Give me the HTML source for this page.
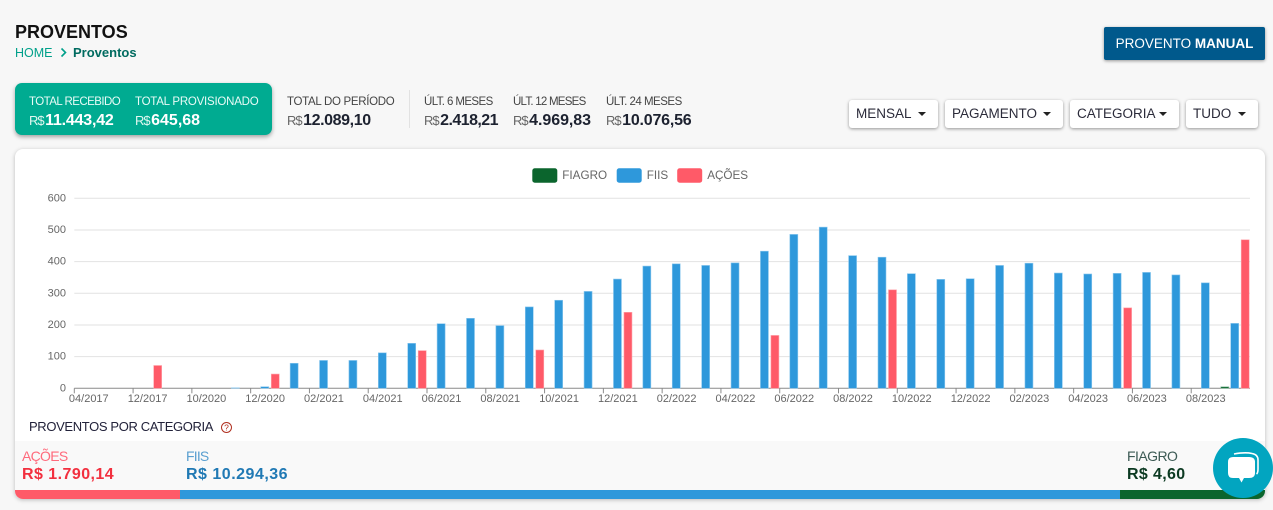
<!DOCTYPE html>
<html lang="pt-BR">
<head>
<meta charset="utf-8">
<title>Proventos</title>
<style>
html,body{margin:0;padding:0;background:#f7f7f7;}
body{position:relative;width:1273px;height:510px;overflow:hidden;font-family:"Liberation Sans",sans-serif;color:#222;}
.t{position:absolute;white-space:nowrap;line-height:1;}
.lab{font-size:11.5px;color:#444;letter-spacing:-.35px;}
.val{font-size:16px;font-weight:bold;color:#1d2230;letter-spacing:-.2px;}
.val small{font-size:13px;font-weight:normal;color:#666;letter-spacing:-1px;margin-right:1.5px;}
.btn{position:absolute;top:100px;height:28px;background:#fff;border-radius:3px;box-shadow:0 1px 3px rgba(0,0,0,.4);font-size:13.5px;line-height:28px;color:#2b2b3a;box-sizing:border-box;padding-left:7px;white-space:nowrap;}
.btn i{display:inline-block;position:absolute;right:12px;top:12px;width:0;height:0;border-left:4.5px solid transparent;border-right:4.5px solid transparent;border-top:4.5px solid #222;}
#hero{position:absolute;left:15px;top:83px;width:257px;height:52px;background:#00ab91;border-radius:7px;box-shadow:0 2px 4px rgba(0,0,0,.35);}
#card{position:absolute;left:15px;top:149px;width:1250px;height:350px;background:#fff;border-radius:8px;box-shadow:0 1px 4px rgba(0,0,0,.25);overflow:hidden;}
#strip{position:absolute;left:0;top:292px;width:1250px;height:49px;background:#f9f9f9;}
#chart{position:absolute;left:0;top:0;}
</style>
</head>
<body>

<div class="t" style="left:15px;top:23px;font-size:18px;font-weight:bold;color:#111;letter-spacing:0;">PROVENTOS</div>
<div class="t" style="left:15px;top:47px;font-size:12.5px;color:#00a08a;">HOME</div>
<svg style="position:absolute;left:60px;top:47px;" width="8" height="11"><path d="M1.5 1.5 L5.5 5.5 L1.5 9.5" fill="none" stroke="#00a08a" stroke-width="1.6"/></svg>
<div class="t" style="left:73px;top:46px;font-size:13px;font-weight:bold;color:#006b60;">Proventos</div>

<div style="position:absolute;left:1104px;top:27px;width:161px;height:33px;background:#00598c;border-radius:2px;box-shadow:0 1px 3px rgba(0,0,0,.4);color:#fff;font-size:13.5px;line-height:33px;text-align:center;white-space:nowrap;">PROVENTO <b>MANUAL</b></div>

<div id="hero"></div>
<div class="t lab" style="left:29px;top:97px;color:#e8fbf6;letter-spacing:-.55px;">TOTAL RECEBIDO</div>
<div class="t val" style="left:29px;top:113px;color:#fff;"><small style="color:#e0f7f0;">R$</small>11.443,42</div>
<div class="t lab" style="left:135px;top:97px;color:#e8fbf6;letter-spacing:-.23px;">TOTAL PROVISIONADO</div>
<div class="t val" style="left:135px;top:113px;color:#fff;letter-spacing:0;"><small style="color:#e0f7f0;">R$</small>645,68</div>

<div class="t lab" style="left:287px;top:97px;letter-spacing:-.3px;">TOTAL DO PERÍODO</div>
<div class="t val" style="left:287px;top:113px;letter-spacing:-.4px;"><small>R$</small>12.089,10</div>
<div style="position:absolute;left:409px;top:90px;width:1px;height:38px;background:#e2e2e2;"></div>
<div class="t lab" style="left:424px;top:97px;letter-spacing:-.6px;">ÚLT. 6 MESES</div>
<div class="t val" style="left:424px;top:113px;letter-spacing:-.55px;"><small>R$</small>2.418,21</div>
<div class="t lab" style="left:513px;top:97px;letter-spacing:-.75px;">ÚLT. 12 MESES</div>
<div class="t val" style="left:513px;top:113px;letter-spacing:-.05px;"><small>R$</small>4.969,83</div>
<div class="t lab" style="left:606px;top:97px;letter-spacing:-.5px;">ÚLT. 24 MESES</div>
<div class="t val" style="left:606px;top:113px;"><small>R$</small>10.076,56</div>

<div class="btn" style="left:849px;width:89px;">MENSAL<i></i></div>
<div class="btn" style="left:945px;width:118px;">PAGAMENTO<i></i></div>
<div class="btn" style="left:1070px;width:109px;">CATEGORIA<i></i></div>
<div class="btn" style="left:1186px;width:72px;">TUDO<i></i></div>

<div id="card">
  <div id="strip"></div>
  <div style="position:absolute;left:0;top:341px;width:165px;height:9px;background:#ff5a68;"></div>
  <div style="position:absolute;left:165px;top:341px;width:940px;height:9px;background:#2e98db;"></div>
  <div style="position:absolute;left:1105px;top:341px;width:145px;height:9px;background:#0b652d;"></div>
</div>

<svg id="chart" width="1273" height="510"></svg>

<div class="t" style="left:29px;top:420px;font-size:13px;color:#22223a;letter-spacing:-.36px;">PROVENTOS POR CATEGORIA</div>
<svg style="position:absolute;left:220px;top:421px;" width="13" height="13"><circle cx="6.5" cy="6.5" r="5" fill="none" stroke="#b03020" stroke-width="1"/><text x="6.5" y="9.6" text-anchor="middle" font-size="8.5" fill="#b03020" font-family="Liberation Sans, sans-serif">?</text></svg>

<div class="t" style="left:22px;top:449px;font-size:14px;color:#ff6a7c;letter-spacing:-.7px;">AÇÕES</div>
<div class="t" style="left:22px;top:467px;font-size:16px;font-weight:bold;color:#f2303f;letter-spacing:.45px;">R$ 1.790,14</div>
<div class="t" style="left:186px;top:449px;font-size:14px;color:#5a9fd0;letter-spacing:-.8px;">FIIS</div>
<div class="t" style="left:186px;top:467px;font-size:16px;font-weight:bold;color:#2079b4;letter-spacing:.5px;">R$ 10.294,36</div>
<div class="t" style="left:1127px;top:449px;font-size:14px;color:#3c5a54;letter-spacing:-.55px;">FIAGRO</div>
<div class="t" style="left:1127px;top:467px;font-size:16px;font-weight:bold;color:#0c3a22;letter-spacing:.35px;">R$ 4,60</div>

<svg style="position:absolute;left:1213px;top:438px;" width="60" height="60">
  <circle cx="30" cy="30" r="30" fill="#02a5c0"/>
  <path d="M21 16 Q32 14 39 15.5 Q45 16.5 45 22 L45 31 Q45 35 43.5 36" fill="none" stroke="#fff" stroke-width="1.6"/>
  <path d="M20 19 L36 19 Q42 19 42 24 L42 35 Q42 40 36 40 L31 40 L28.5 44.5 L26 40 L20 40 Q15 40 15 35 L15 24 Q15 19 20 19 Z" fill="#fff"/>
</svg>

<script>
const categories = ["04/2017","11/2017","12/2017","09/2020","10/2020","11/2020","12/2020","01/2021","02/2021","03/2021","04/2021","05/2021","06/2021","07/2021","08/2021","09/2021","10/2021","11/2021","12/2021","01/2022","02/2022","03/2022","04/2022","05/2022","06/2022","07/2022","08/2022","09/2022","10/2022","11/2022","12/2022","01/2023","02/2023","03/2023","04/2023","05/2023","06/2023","07/2023","08/2023","09/2023"];
const fiagroValues = [0,0,0,0,0,0,0,0,0,0,0,0,0,0,0,0,0,0,0,0,0,0,0,0,0,0,0,0,0,0,0,0,0,0,0,0,0,0,0,4.6];
const fiisValues = [0,0,0,0,0,1.5,5,79,88,88,112,142,204,221,198,257,278,306,345,386,393,388,396,433,486,509,419,414,362,344,346,388,395,364,361,363,366,358,333,205];
const acoesValues = [0,0,72,0,0,0,45,0,0,0,0,119,0,0,0,121,0,0,240,0,0,0,0,167,0,0,0,311,0,0,0,0,0,0,0,254,0,0,0,469];
const yTicks = [0,100,200,300,400,500,600];
const legendNames = ["FIAGRO","FIIS","AÇÕES"];
const seriesColors = ["#0b652d","#2e98db","#ff5a68"];
const seriesStrokes = ["#7fb898","#8cc8ee","#ffa5ac"];

const NS = "http://www.w3.org/2000/svg";
const svg = document.getElementById("chart");
const plotLeft = 74.3, plotRight = 1250, plotBottom = 388.3, plotTop = 198.3, yMax = 600;

function xBand(i){ return plotLeft + i * (plotRight - plotLeft) / categories.length; }
function yVal(v){ return plotBottom - (v / yMax) * (plotBottom - plotTop); }
function make(tag, attrs, text){
  const el = document.createElementNS(NS, tag);
  for (const k in attrs) el.setAttribute(k, attrs[k]);
  if (text !== undefined) el.textContent = text;
  svg.appendChild(el);
  return el;
}

yTicks.forEach(function(t){
  const grid = make("line", {x1:plotLeft, x2:plotRight, y1:yVal(t), y2:yVal(t), stroke: t === 0 ? "#8a8a8a" : "#e2e2e2", "stroke-width":1});
  
  
  const label = make("text", {x:66, y:yVal(t)+3, "text-anchor":"end", "font-size":11, fill:"#666", "font-family":"Liberation Sans, sans-serif"}, String(t));
  
  
});

categories.forEach(function(c, i){
  if (i % 2 !== 0) return;
  const x = xBand(i);
  const tick = make("line", {x1:x, x2:x, y1:plotBottom, y2:plotBottom+5, stroke:"#8a8a8a", "stroke-width":1});
  
  
  const label = make("text", {x:x + (xBand(1)-xBand(0))/2 - 0.2, y:402, "text-anchor":"middle", "font-size":11, fill:"#666", "font-family":"Liberation Sans, sans-serif"}, c);
  
  
});

const allSeries = [fiagroValues, fiisValues, acoesValues];
const seriesKeys = ["fiagro","fiis","acoes"];
const barOffset = [0.2, 10.1, 20.6];
const barWidth = 8;
allSeries.forEach(function(values, s){
  values.forEach(function(v, i){
    if (v <= 0) return;
    const top = yVal(v);
    const bar = make("rect", {x:xBand(i)+barOffset[s], y:top, width:barWidth, height:plotBottom-top, fill:seriesColors[s], stroke:seriesStrokes[s], "stroke-width":0.6});
    
    
  });
});

const legendSwatchX = [532.3, 616.7, 677.2];
legendNames.forEach(function(n, s){
  const sw = make("rect", {x:legendSwatchX[s], y:168.3, width:25, height:14.4, rx:2.5, fill:seriesColors[s]});
  
  
  const tx = make("text", {x:legendSwatchX[s]+30, y:179, "font-size":11.7, fill:"#666", "font-family":"Liberation Sans, sans-serif"}, n);
  
  
});
</script>
</body>
</html>
